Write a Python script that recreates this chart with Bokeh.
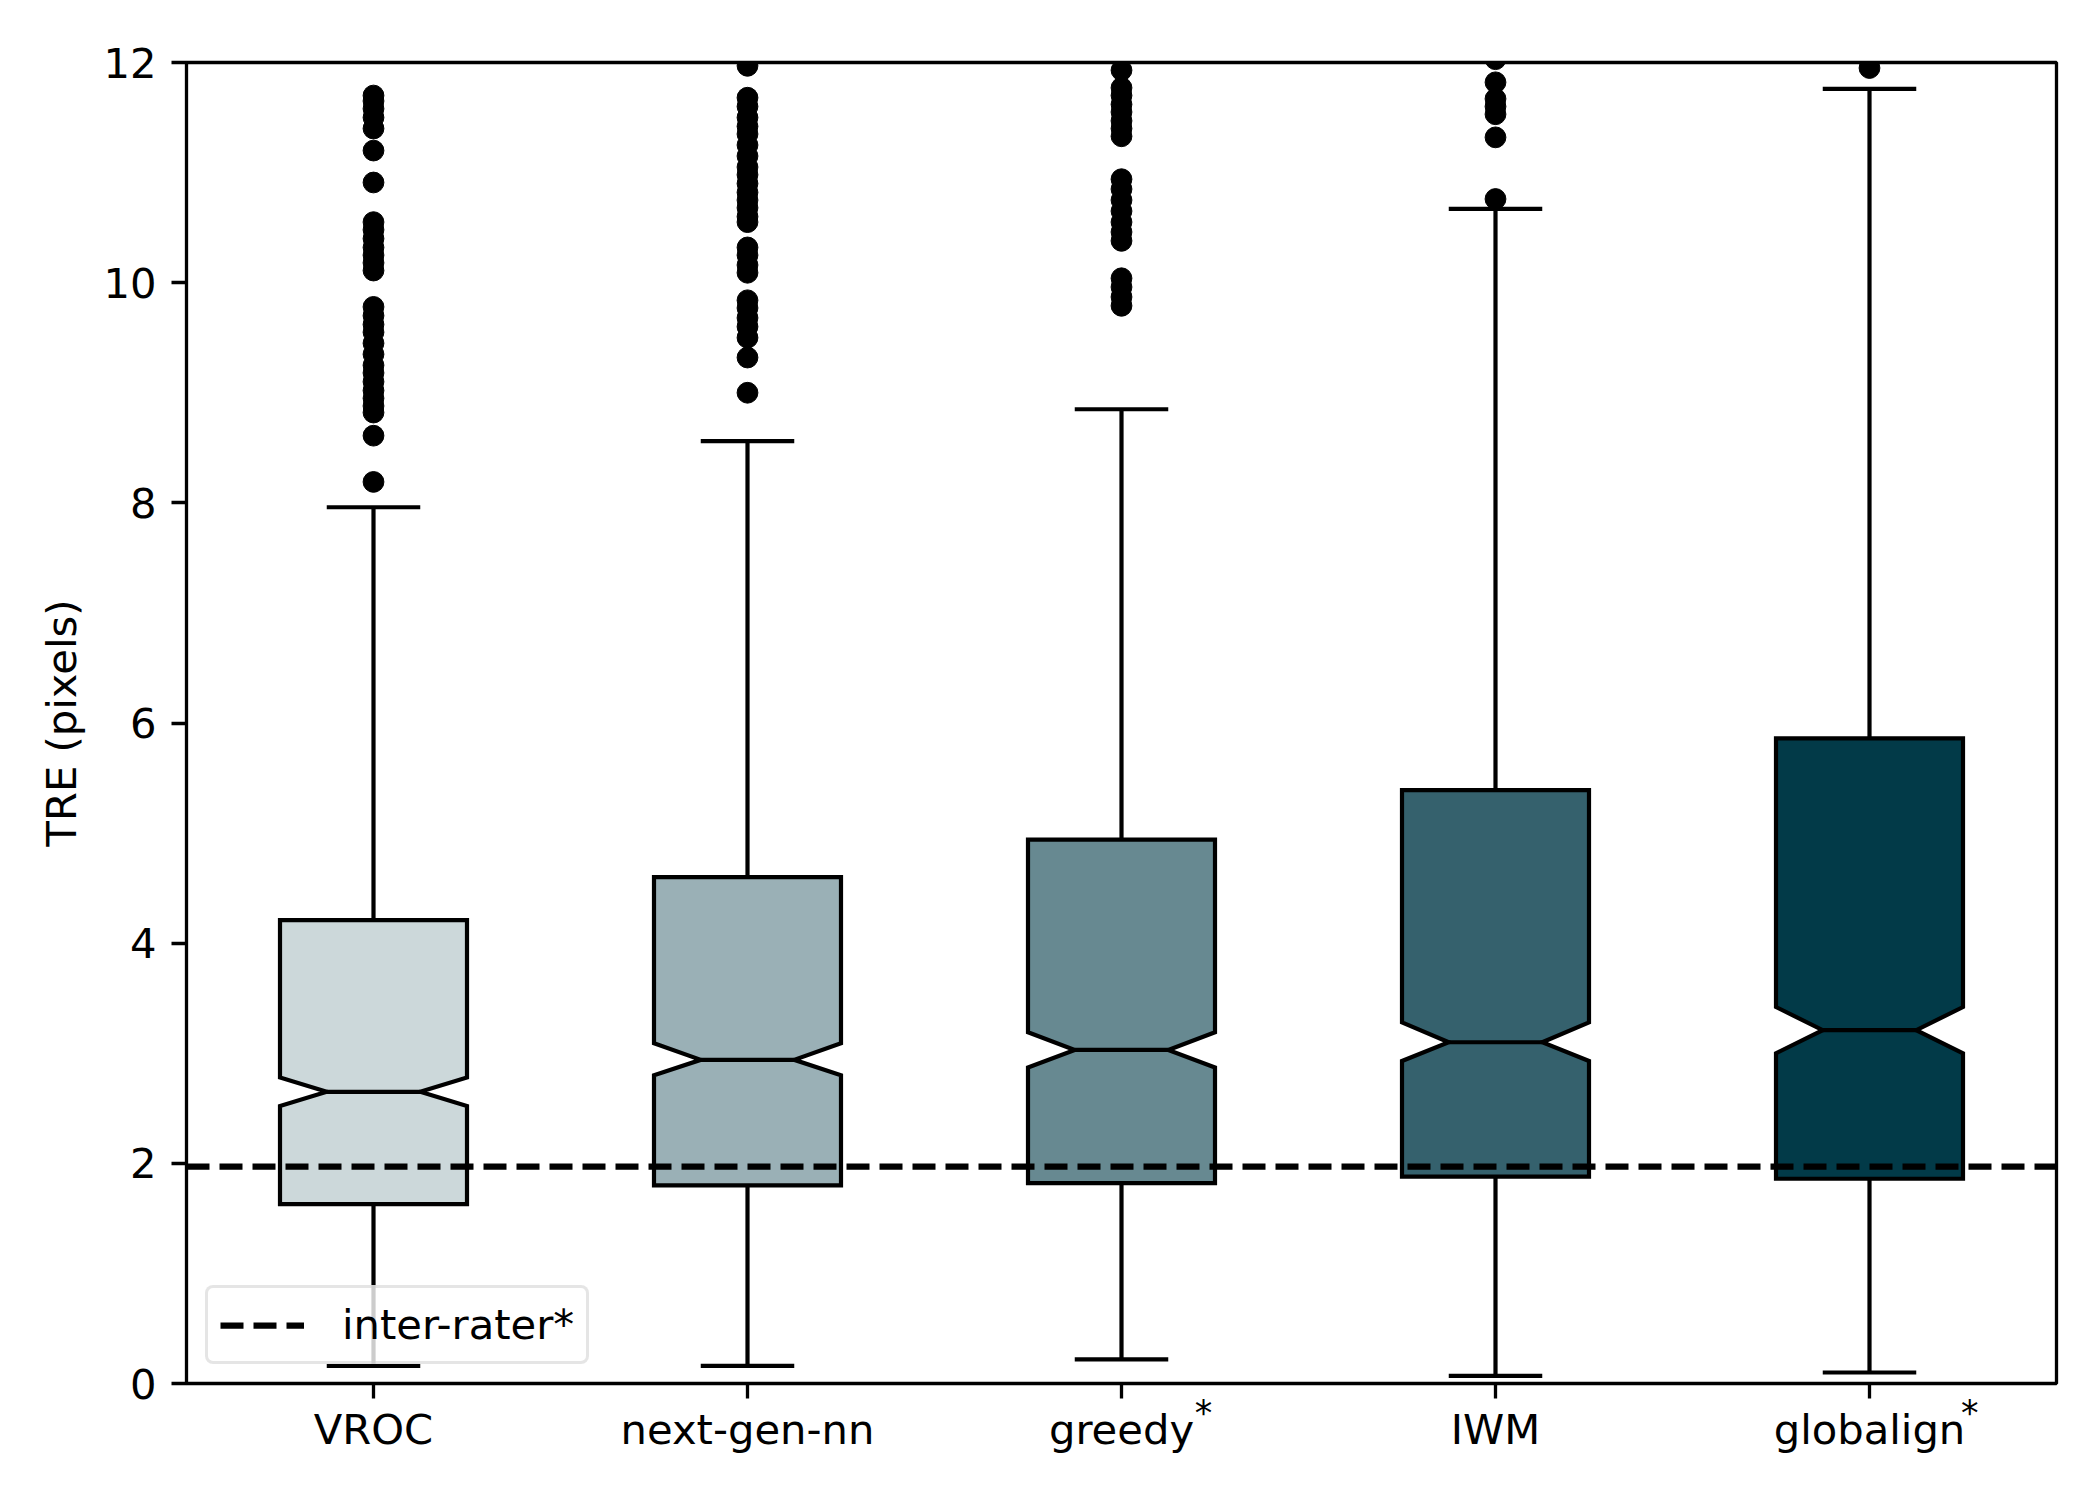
import numpy as np
from bokeh.plotting import figure
from bokeh.models import Range1d, FixedTicker, Legend, LegendItem, LinearAxis
from bokeh.embed import file_html
from bokeh.resources import INLINE

# ---------------- data ----------------
methods = ["VROC", "next-gen-nn", "greedy", "IWM", "globalign"]
starred = [False, False, True, False, True]
q1 = [1.63, 1.80, 1.82, 1.88, 1.86]
median = [2.65, 2.94, 3.03, 3.10, 3.21]
q3 = [4.21, 4.60, 4.94, 5.39, 5.86]
notch_lo = [2.52, 2.80, 2.87, 2.93, 3.00]
notch_hi = [2.78, 3.09, 3.19, 3.28, 3.42]
whisker_lo = [0.16, 0.16, 0.22, 0.07, 0.10]
whisker_hi = [7.96, 8.56, 8.85, 10.67, 11.76]

outliers_vroc = [11.70, 11.65, 11.58, 11.50, 11.40, 11.20, 10.91, 10.55, 10.48,
                 10.40, 10.32, 10.25, 10.18, 10.11, 9.78, 9.70, 9.62, 9.55, 9.45,
                 9.35, 9.25, 9.18, 9.10, 9.02, 8.95, 8.88, 8.82, 8.61, 8.19]
outliers_nextgen = [11.97, 11.68, 11.60, 11.50, 11.42, 11.35, 11.25, 11.15, 11.05,
                    10.98, 10.90, 10.82, 10.75, 10.68, 10.60, 10.55, 10.32, 10.25,
                    10.16, 10.09, 9.84, 9.77, 9.68, 9.60, 9.50, 9.32, 9.00]
outliers_greedy = [11.93, 11.77, 11.70, 11.62, 11.55, 11.47, 11.40, 11.33, 10.94,
                   10.85, 10.75, 10.65, 10.55, 10.46, 10.38, 10.04, 9.96, 9.87, 9.79]
outliers_iwm = [12.03, 11.82, 11.67, 11.60, 11.53, 11.32, 10.76]
outliers_globalign = [11.95]
outliers = [outliers_vroc, outliers_nextgen, outliers_greedy, outliers_iwm, outliers_globalign]

inter_rater = 1.97
legend_label = "inter-rater*"
y_label = "TRE (pixels)"
y_ticks = [0, 2, 4, 6, 8, 10, 12]
y_limits = (0, 12)

# ---------------- style ----------------
box_colors = ["#ccd8da", "#9ab0b6", "#678991", "#35616d", "#023a48"]
BOX_W = 0.5
FONT = "DejaVu Sans"
FS = "41.7px"
STAR_FS = "35px"
# horizontal shift (in axis units) of the superscript asterisk from its tick
star_shift = {2: 0.219, 4: 0.268}
LW = 4.2
SPINE_W = 3.3

positions = list(range(1, len(methods) + 1))
x_limits = (0.5, len(methods) + 0.5)

p = figure(width=2084, height=1484, output_backend="svg", toolbar_location=None,
           x_range=Range1d(*x_limits), y_range=Range1d(*y_limits),
           min_border_left=186, min_border_right=28, min_border_top=62,
           min_border_bottom=101)
p.background_fill_color = "white"
p.border_fill_color = "white"
p.grid.visible = False
p.outline_line_color = "black"
p.outline_line_width = SPINE_W

for ax in (p.xaxis[0], p.yaxis[0]):
    ax.axis_line_color = None
    ax.major_tick_in = 0
    ax.major_tick_out = 15
    ax.major_tick_line_width = SPINE_W
    ax.major_tick_line_color = "black"
    ax.minor_tick_line_color = None
    ax.major_label_text_font = FONT
    ax.major_label_text_font_size = FS
    ax.major_label_text_color = "black"

p.xaxis.ticker = FixedTicker(ticks=positions)
p.xaxis.major_label_overrides = {pos: m for pos, m in zip(positions, methods)}
p.xaxis.major_label_standoff = 6
p.yaxis.ticker = FixedTicker(ticks=y_ticks)
p.yaxis.major_label_standoff = 15
p.yaxis.axis_label = y_label
p.yaxis.axis_label_text_font = FONT
p.yaxis.axis_label_text_font_size = FS
p.yaxis.axis_label_text_font_style = "normal"
p.yaxis.axis_label_text_color = "black"
p.yaxis.axis_label_standoff = 14

# superscript asterisks: a label-only axis pulled up next to the tick labels
star_ticks = [positions[i] + star_shift[i] for i, s in enumerate(starred) if s]
star_axis = LinearAxis(ticker=FixedTicker(ticks=star_ticks),
                       major_label_overrides={t: "*" for t in star_ticks})
star_axis.axis_line_color = None
star_axis.major_tick_line_color = None
star_axis.minor_tick_line_color = None
star_axis.major_tick_in = 0
star_axis.major_tick_out = 0
star_axis.major_label_text_font = FONT
star_axis.major_label_text_font_size = STAR_FS
star_axis.major_label_text_color = "black"
star_axis.major_label_standoff = -64
p.add_layout(star_axis, "below")

# notched boxes
xs, ys = [], []
for pos, a, nl, m, nh, b in zip(positions, q1, notch_lo, median, notch_hi, q3):
    L, R = pos - BOX_W / 2, pos + BOX_W / 2
    nL, nR = pos - BOX_W / 4, pos + BOX_W / 4
    xs.append([L, R, R, nR, R, R, L, L, nL, L, L])
    ys.append([a, a, nl, m, nh, b, b, nh, m, nl, a])
p.patches(xs, ys, fill_color=box_colors, line_color="black", line_width=LW,
          line_join="miter")

# whiskers
p.segment(x0=positions, y0=q3, x1=positions, y1=whisker_hi, line_color="black", line_width=LW)
p.segment(x0=positions, y0=q1, x1=positions, y1=whisker_lo, line_color="black", line_width=LW)
cap_l = [pos - BOX_W / 4 for pos in positions]
cap_r = [pos + BOX_W / 4 for pos in positions]
p.segment(x0=cap_l, y0=whisker_hi, x1=cap_r, y1=whisker_hi, line_color="black", line_width=LW)
p.segment(x0=cap_l, y0=whisker_lo, x1=cap_r, y1=whisker_lo, line_color="black", line_width=LW)
# medians
p.segment(x0=cap_l, y0=median, x1=cap_r, y1=median, line_color="black", line_width=LW)

# fliers
fx, fy = [], []
for pos, vals in zip(positions, outliers):
    fx.extend([pos] * len(vals))
    fy.extend(vals)
p.scatter(fx, fy, marker="circle", size=20.8, fill_color="black", line_color="black")

# inter-rater line
r_line = p.line(x=list(x_limits), y=[inter_rater, inter_rater], line_color="black",
                line_width=6.25, line_dash="23 10")

legend = Legend(items=[LegendItem(label=legend_label, renderers=[r_line])],
                location="bottom_left")
legend.label_text_font = FONT
legend.label_text_font_size = FS
legend.label_text_color = "black"
legend.border_line_color = "#cccccc"
legend.border_line_width = 3.3
legend.background_fill_color = "white"
legend.background_fill_alpha = 0.8
legend.glyph_width = 84
legend.glyph_height = 40
legend.label_height = 40
legend.label_standoff = 38
legend.padding = 12
legend.margin = 19
legend.spacing = 0
if "border_radius" in Legend.properties():
    legend.border_radius = 8
p.add_layout(legend)

open("out.html", "w").write(file_html(p, INLINE))
